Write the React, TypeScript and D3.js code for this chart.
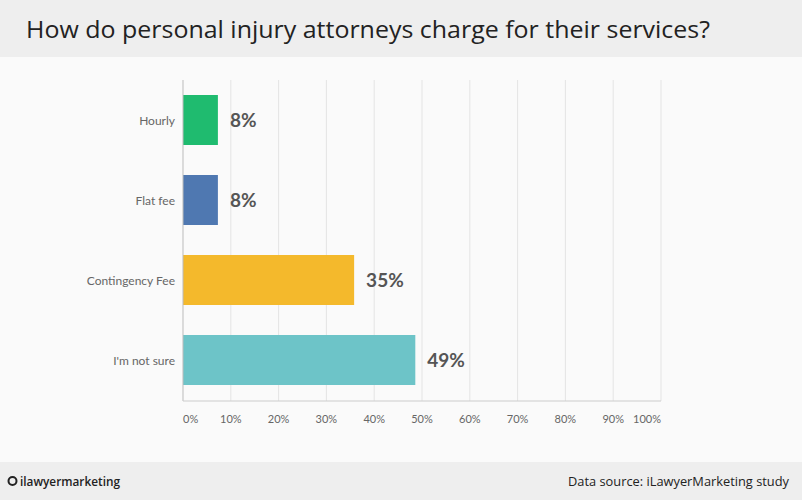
import React from "react";
import * as d3 from "d3";

const categories = ["Hourly", "Flat fee", "Contingency Fee", "I'm not sure"];
const values = [7.3, 7.3, 35.8, 48.6];
const valueLabels = ["8%", "8%", "35%", "49%"];
const barColors = ["#1fbb6f", "#4f78b1", "#f4b92c", "#6dc4c8"];
const ticks = [0, 10, 20, 30, 40, 50, 60, 70, 80, 90, 100];

const W = 802;
const H = 500;

export default function App() {
  const x = d3.scaleLinear().domain([0, 100]).range([183, 661]);
  const y = d3
    .scaleBand<string>()
    .domain(categories)
    .range([80, 400])
    .paddingInner(0.375)
    .paddingOuter(0.1875);

  return (
    <svg
      width={W}
      height={H}
      style={{ position: "absolute", left: 0, top: 0, display: "block" }}
    >
      <rect x={0} y={0} width={W} height={H} fill="#fafafa" />
      <rect x={0} y={0} width={W} height={57} fill="#eeeeee" />
      <text
        x={26}
        y={38}
        fontFamily="'Open Sans', sans-serif"
        fontSize={24}
        fill="#222"
        textLength={684}
        lengthAdjust="spacingAndGlyphs"
      >
        How do personal injury attorneys charge for their services?
      </text>

      {ticks.slice(1).map((t) => (
        <line
          key={t}
          x1={x(t)}
          x2={x(t)}
          y1={80}
          y2={401}
          stroke="#e4e4e4"
          strokeWidth={1}
        />
      ))}

      {categories.map((c, i) => (
        <g key={c}>
          <rect
            x={x(0)}
            y={y(c)}
            width={x(values[i]) - x(0)}
            height={y.bandwidth()}
            fill={barColors[i]}
          />
          <text
            x={x(values[i]) + 12}
            y={(y(c) as number) + y.bandwidth() / 2 + 7}
            fontFamily="Lato, 'Open Sans', sans-serif"
            fontWeight="bold"
            fontSize={19}
            fill="#555"
          >
            {valueLabels[i]}
          </text>
          <text
            x={175}
            y={(y(c) as number) + y.bandwidth() / 2 + 4.5}
            textAnchor="end"
            fontFamily="Lato, 'Open Sans', sans-serif"
            fontSize={12}
            fill="#666"
          >
            {c}
          </text>
        </g>
      ))}

      <line x1={183} x2={183} y1={80} y2={401} stroke="#bbb" strokeWidth={1} />
      <line x1={183} x2={661} y1={401} y2={401} stroke="#ccc" strokeWidth={1} />

      {ticks.map((t, i) => (
        <text
          key={t}
          x={x(t)}
          y={423}
          textAnchor={i === 0 ? "start" : i === ticks.length - 1 ? "end" : "middle"}
          fontFamily="Lato, 'Open Sans', sans-serif"
          fontSize={11}
          fill="#666"
        >
          {t}%
        </text>
      ))}

      <rect x={0} y={462} width={W} height={38} fill="#eeeeee" />
      <circle cx={12.5} cy={481} r={4} fill="none" stroke="#222" strokeWidth={2} />
      <text
        x={20}
        y={485.5}
        fontFamily="'Open Sans', sans-serif"
        fontWeight="600"
        fontSize={12}
        fill="#222"
        textLength={100}
        lengthAdjust="spacingAndGlyphs"
      >
        ilawyermarketing
      </text>
      <text
        x={568}
        y={486}
        fontFamily="'Open Sans', sans-serif"
        fontSize={13}
        fill="#222"
        textLength={221}
        lengthAdjust="spacingAndGlyphs"
      >
        Data source: iLawyerMarketing study
      </text>
    </svg>
  );
}
